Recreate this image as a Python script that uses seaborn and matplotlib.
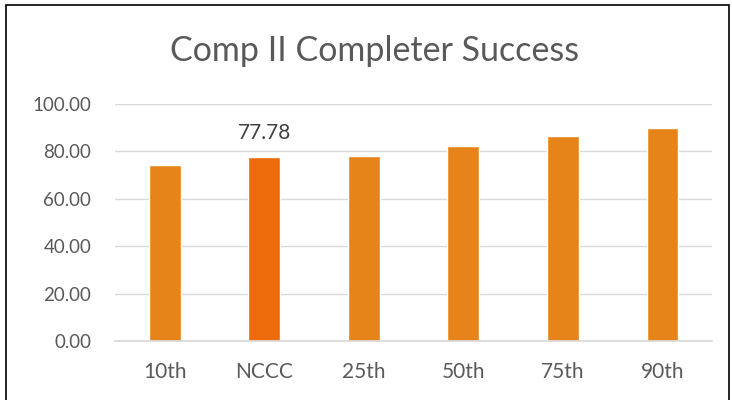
import matplotlib
matplotlib.use("Agg")
import matplotlib.pyplot as plt
import seaborn as sns
import pandas as pd
from matplotlib.patches import Rectangle

categories = ["10th", "NCCC", "25th", "50th", "75th", "90th"]
values = [74.2, 77.78, 77.9, 82.4, 86.5, 90.0]
title = "Comp II Completer Success"

df = pd.DataFrame({"group": categories, "value": values})
palette = {c: "#E6841A" for c in categories}
palette["NCCC"] = "#EE6B0B"

sns.set_theme(style="white")
plt.rcParams["font.family"] = ["Lato", "DejaVu Sans"]

fig = plt.figure(figsize=(7.32, 4.0), dpi=100)
ax = fig.add_axes([0.157, 0.1475, 0.816, 0.5925])

sns.barplot(data=df, x="group", y="value", hue="group", palette=palette,
            order=categories, width=0.32, legend=False, ax=ax, saturation=1)

ax.set_ylim(0, 100)
ax.set_yticks(range(0, 101, 20))
ax.set_yticklabels([f"{v:.2f}" for v in range(0, 101, 20)])
ax.yaxis.grid(True, color="#D9D9D9", linewidth=1)
ax.set_axisbelow(True)
for s in ["top", "right", "left"]:
    ax.spines[s].set_visible(False)
ax.spines["bottom"].set_color("#D9D9D9")
ax.tick_params(axis="y", colors="#595959", labelsize=13.5, length=0, pad=17)
ax.tick_params(axis="x", colors="#595959", labelsize=15, length=0, pad=15)
ax.set_xlabel("")
ax.set_ylabel("")

# data label only on the college bar
i = categories.index("NCCC")
ax.annotate(f"{values[i]:.2f}", (i, values[i]), xytext=(0, 10),
            textcoords="offset points", ha="center", va="bottom",
            fontsize=15, color="#404040")

fig.text(0.512, 0.872, title, ha="center", va="center", fontsize=24.5, color="#595959")

fig.patches.append(Rectangle((6 / 732, -0.05), 723 / 732, 1.05 - 5 / 400,
                             transform=fig.transFigure, fill=False,
                             edgecolor="black", linewidth=1.2))

fig.savefig("out.png", dpi=100)
